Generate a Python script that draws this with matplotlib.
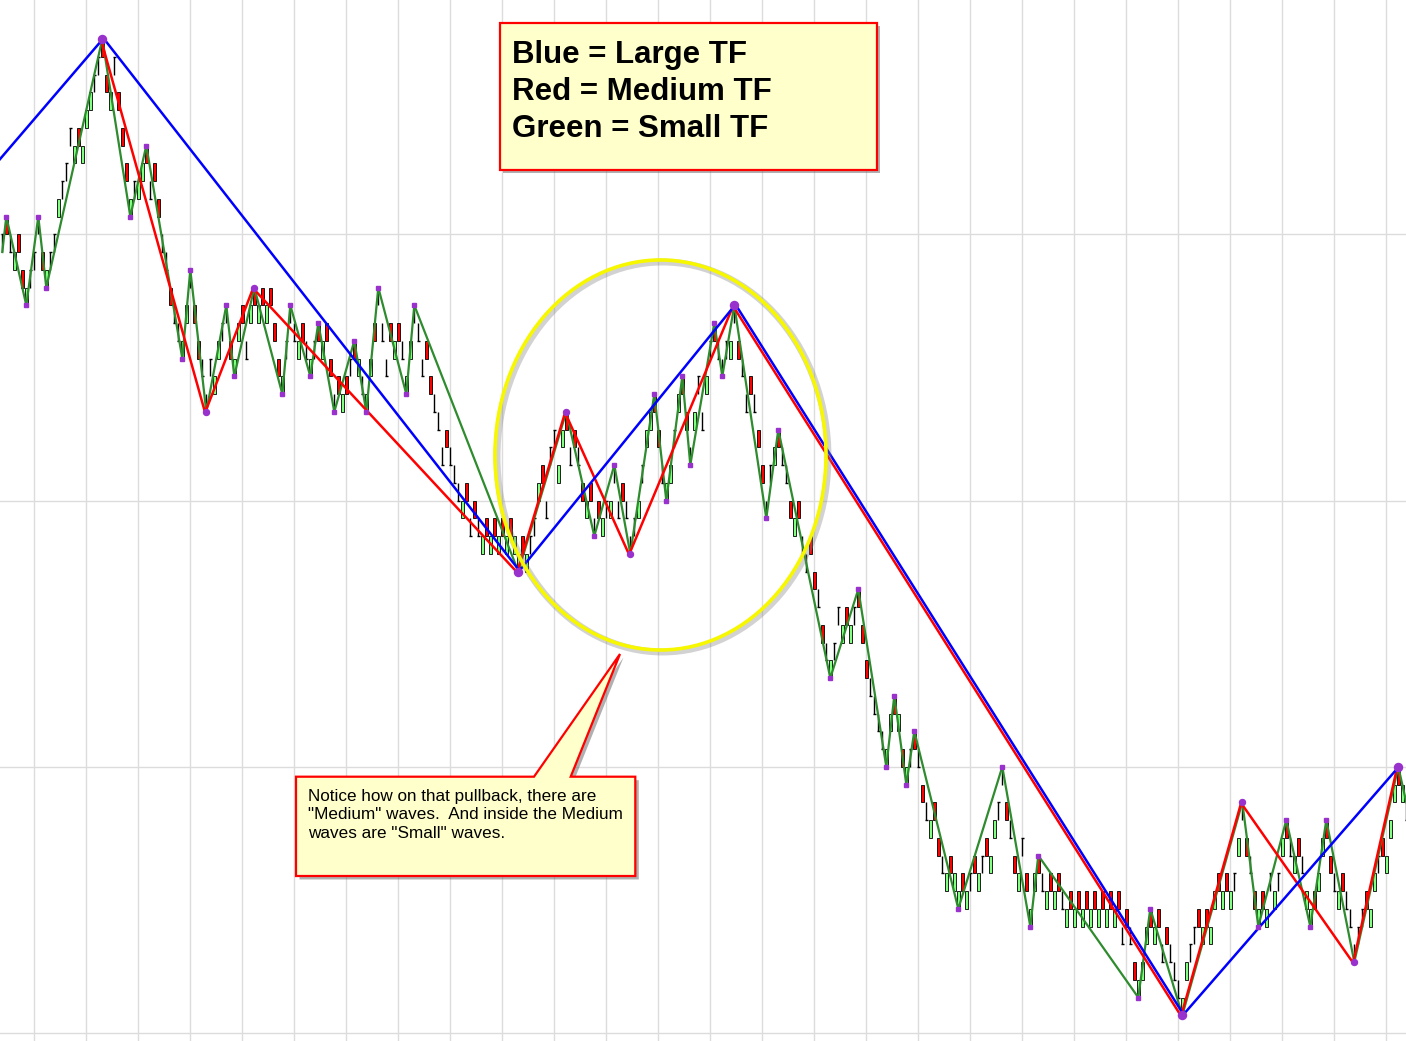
import matplotlib
matplotlib.use('Agg')
import matplotlib.pyplot as plt
import matplotlib.patheffects as pe
from matplotlib.patches import Ellipse, Polygon
from matplotlib.transforms import offset_copy
import numpy as np

plt.rcParams['font.family'] = ['Liberation Sans', 'DejaVu Sans']

# range bars: bottom level of each bar (each bar spans one level)
bar_level = [
    44, 45, 44, 43, 44, 42, 41, 42, 43, 45,
    43, 42, 43, 44, 46, 47, 48, 50, 49, 50,
    49, 51, 52, 53, 54, 55, 53, 52, 54, 52,
    50, 48, 46, 47, 47, 48, 49, 47, 48, 46,
    44, 43, 41, 40, 39, 38, 40, 42, 40, 38,
    37, 35, 37, 36, 38, 39, 40, 38, 37, 39,
    40, 38, 40, 41, 40, 41, 40, 41, 39, 37,
    36, 38, 40, 39, 38, 39, 38, 37, 38, 39,
    38, 39, 37, 35, 36, 35, 36, 37, 38, 37,
    36, 35, 37, 39, 41, 39, 37, 39, 38, 39,
    38, 36, 38, 40, 39, 37, 38, 36, 35, 34,
    32, 33, 32, 31, 30, 29, 30, 28, 29, 28,
    27, 28, 27, 28, 27, 28, 27, 28, 27, 26,
    27, 26, 27, 28, 30, 31, 29, 32, 33, 31,
    33, 34, 32, 33, 32, 30, 29, 30, 28, 29,
    28, 29, 29, 31, 29, 30, 29, 27, 28, 29,
    31, 33, 34, 35, 33, 31, 30, 31, 33, 35,
    36, 34, 32, 34, 36, 34, 36, 38, 39, 38,
    37, 38, 38, 40, 38, 37, 35, 36, 35, 33,
    31, 29, 31, 32, 33, 32, 31, 29, 28, 29,
    27, 26, 27, 25, 24, 22, 21, 20, 21, 23,
    22, 23, 22, 23, 24, 22, 20, 19, 18, 17,
    16, 15, 17, 18, 17, 15, 14, 15, 16, 15,
    13, 12, 11, 12, 10, 9, 8, 9, 8, 7,
    8, 7, 8, 9, 8, 9, 10, 9, 11, 12,
    14, 12, 11, 9, 8, 10, 8, 6, 8, 9,
    8, 7, 8, 7, 8, 7, 6, 7, 6, 7,
    6, 7, 6, 7, 6, 7, 6, 7, 6, 7,
    5, 6, 5, 3, 2, 3, 5, 6, 5, 6,
    4, 5, 4, 3, 2, 1, 3, 4, 5, 6,
    5, 6, 5, 7, 8, 7, 8, 7, 8, 10,
    12, 10, 9, 7, 6, 7, 6, 8, 7, 8,
    10, 11, 10, 9, 10, 9, 7, 6, 7, 8,
    10, 11, 9, 8, 7, 8, 7, 6, 4, 5,
    6, 7, 6, 8, 9, 10, 9, 11, 13, 14,
    13, 12,
]
# g = up bar, r = down bar, u/d = flat bar closing at top/bottom
bar_kind = (
    "urdgrrguuu" "rguuguuugr" "ggguurrgur" "rrguggrdrr" "ddrddggurr"
    "ddugguurgg" "rdgrgrgrrr" "guudgrdgur" "grrdrgrurg" "dggruddrgr"
    "dgguddrrdd" "drdddgrdrd" "grgrgrgrgg" "rguugrduug"
    "grdrdrgrdr" "gugudrddug" "uggrrdggug" "rrdgudgurd" "dugurddrdr"
    "rdugrddrgr" "ddrrdrdguu" "grgurrrddd" "dggrgrgurd" "rdgrrdgrgg"
    "rgurgurggu" "urdrgurggr" "dgrgrdgrgr" "grgrgrgrgr" "drdrgggrgr"
    "drdddgguur" "grggrgrgug" "urdrgrgugu" "grdgrdggrg" "grrdgrdddu"
    "urggurgggr" "gd"
)

# zigzag pivots: (bar index, level)
small_x = [0, 1, 6, 9, 11, 25, 32, 36, 45, 47, 51, 56, 58, 63, 70, 72, 77, 79,
           83, 88, 91, 94, 101, 103, 129, 141, 148, 153, 157, 163, 166, 170,
           172, 178, 180, 183, 191, 194, 207, 214, 221, 223, 226, 228, 239,
           250, 257, 259, 284, 287, 295, 310, 314, 321, 327, 331, 338, 349, 351]
small_y = [44, 46, 41, 46, 42, 56, 46, 50, 38, 43, 35, 41, 37, 42, 36, 41, 37, 40,
           35, 39, 35, 42, 36, 41, 26, 35, 28, 32, 27, 36, 30, 37,
           32, 40, 37, 41, 29, 34, 20, 25, 15, 19, 14, 17, 7,
           15, 6, 10, 2, 7, 1, 13, 6, 12, 6, 12, 4, 15, 13]

medium_x = [25, 51, 63, 129, 141, 157, 183, 295, 310, 338, 349]
medium_y = [56, 35, 42, 26, 35, 27, 41, 1, 13, 4, 15]

large_x = [-13, 25, 129, 183, 295, 349]
large_y = [46, 56, 26, 41, 1, 15]

legend_lines = ["Blue = Large TF", "Red = Medium TF", "Green = Small TF"]
note_lines = ["Notice how on that pullback, there are",
              "\"Medium\" waves.  And inside the Medium",
              "waves are \"Small\" waves."]

W, H = 1406, 1041


def px(x, y):
    # pixel position in the picture -> axes fraction
    return (x / W, 1 - y / H)


fig = plt.figure(figsize=(W / 100, H / 100), dpi=100)
ax = fig.add_axes([0, 0, 1, 1])
ax.set_xlim(-0.575, 350.925)
ax.set_ylim(-0.45, 58.2)
ax.set_xticks(np.arange(8, 352, 13))
ax.set_yticks([0, 15, 30, 45])
ax.tick_params(length=0, labelbottom=False, labelleft=False)
ax.grid(True, color='#dcdcdc', linewidth=1)
ax.set_axisbelow(True)
for s in ax.spines.values():
    s.set_visible(False)

lev = np.array(bar_level)
kind = np.array(list(bar_kind))
idx = np.arange(len(lev))

g = kind == 'g'
r = kind == 'r'
ax.bar(idx[g], 1, bottom=lev[g], width=0.7, color='#80ff80',
       edgecolor='black', linewidth=0.6, zorder=2)
ax.bar(idx[r], 1, bottom=lev[r], width=0.7, color='#ff0000',
       edgecolor='black', linewidth=0.6, zorder=2)
b = (kind == 'u') | (kind == 'd')
ax.vlines(idx[b], lev[b], lev[b] + 1, color='black', linewidth=1, zorder=2)
tick_y = np.where(kind == 'u', lev + 1, lev)
ax.hlines(tick_y[b], idx[b] - 0.4, idx[b] + 0.4, color='black', linewidth=1, zorder=2)

# zigzag lines
ax.plot(small_x, small_y, color='#2e8b2e', linewidth=1.6, zorder=3)
red_tr = offset_copy(ax.transData, fig=fig, x=-1.2, y=-0.8, units='dots')
blue_tr = offset_copy(ax.transData, fig=fig, x=1.2, y=0.8, units='dots')
ax.plot(medium_x, medium_y, color='#ff0000', linewidth=1.8, zorder=3.2, transform=red_tr)
ax.plot(large_x, large_y, color='#0000ff', linewidth=1.8, zorder=3.4, transform=blue_tr)

purple = '#9932cc'
ax.plot(small_x[1:-1], small_y[1:-1], 's', color=purple, markersize=2.8, zorder=4)
ax.plot(medium_x, medium_y, 'o', color=purple, markersize=4.3, zorder=4.1)
ax.plot(large_x[1:], large_y[1:], 'o', color=purple, markersize=5.8, zorder=4.2)

# yellow ellipse with soft shadow
ell_c = px(660.5, 455)
ell_sh = Ellipse((ell_c[0] + 2 / W, ell_c[1] - 2 / H), 331 / W, 390 / H,
                 transform=ax.transAxes, fill=False, edgecolor='#808080',
                 linewidth=5, alpha=0.35, zorder=5)
ax.add_patch(ell_sh)
ell = Ellipse(ell_c, 331 / W, 390 / H, transform=ax.transAxes, fill=False,
              edgecolor='#f7f700', linewidth=2.6, zorder=5.1)
ax.add_patch(ell)

shadow = [pe.SimplePatchShadow(offset=(2.5, -2.5), shadow_rgbFace='#707070', alpha=0.55),
          pe.Normal()]

# legend box
legend_box = Polygon([px(499.5, 22.5), px(877, 22.5), px(877, 170), px(499.5, 170)],
                     closed=True, transform=ax.transAxes, facecolor='#ffffcc',
                     edgecolor='#ff0000', linewidth=1.6, zorder=6, path_effects=shadow)
ax.add_patch(legend_box)
for i, t in enumerate(legend_lines):
    ax.text(*px(512, 62.5 + 37.3 * i), t, transform=ax.transAxes, fontsize=22.5,
            fontweight='bold', color='black', va='baseline', ha='left', zorder=7)

# callout with pointer
callout = Polygon([px(296, 776.7), px(534, 776.7), px(620, 654), px(570.7, 776.7),
                   px(635.3, 776.7), px(635.3, 876), px(296, 876)],
                  closed=True, transform=ax.transAxes, facecolor='#ffffcc',
                  edgecolor='#ff0000', linewidth=1.6, zorder=6, path_effects=shadow)
ax.add_patch(callout)
for i, t in enumerate(note_lines):
    ax.text(*px(308.3, 800.7 + 18.4 * i), t, transform=ax.transAxes, fontsize=12.3,
            color='black', va='baseline', ha='left', zorder=7)

fig.savefig('out.png', dpi=100)
